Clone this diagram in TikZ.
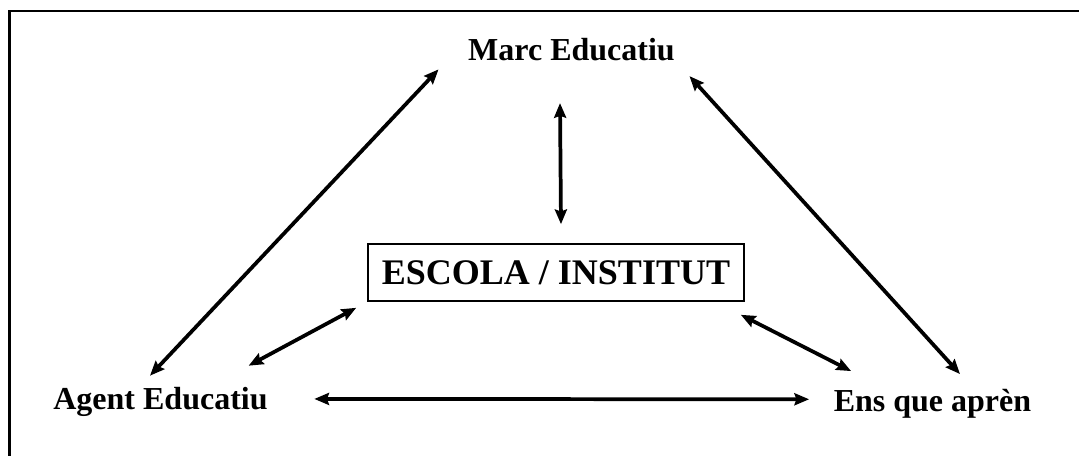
\documentclass[tikz,border=0pt]{standalone}
\usepackage{fontspec}
\setmainfont{Liberation Serif}
\usetikzlibrary{arrows.meta}

\begin{document}
\begin{tikzpicture}[x=0.75pt,y=-0.75pt,
    >={Stealth[length=11pt,width=9pt,inset=1.5pt]},
    every node/.style={font=\bfseries\fontsize{24}{28}\selectfont},
    link/.style={<->,line width=2.8pt}]
  \useasboundingbox (0,0) rectangle (1079,456);
  \clip (0,0) rectangle (1079,456);
  \draw[line width=2pt] (9.7,11) rectangle (1100,480);
  \node[anchor=base] (marc) at (571.5,61) {Marc Educatiu};
  \node[anchor=base] (agent) at (160.5,409) {Agent Educatiu};
  \node[anchor=base] (ens) at (932.5,411) {Ens que aprèn};
  \node[draw,line width=1.25pt,minimum width=282pt,minimum height=42.75pt,
    font=\bfseries\fontsize{27}{32}\selectfont] (escola) at (556,272.5) {ESCOLA / INSTITUT};
  % triangle sides
  \draw[link] ([shift={(-10.5,-6.4)}]agent.north) -- ([shift={(-25,3.3)}]marc.south west);
  \draw[link] ([shift={(10,10)}]marc.south east) -- ([shift={(27.5,-10)}]ens.north);
  \draw[link] ([shift={(42,-2.5)}]agent.east) -- ([shift={(-20,-4)}]ens.west);
  % links to the centre
  \draw[link] ([shift={(5,-19)}]escola.north) -- ([shift={(-11.5,37)}]marc.south);
  \draw[link] ([shift={(-11,6)}]escola.south west) -- ([shift={(-23.7,-16.4)}]agent.north east);
  \draw[link] ([shift={(-4,13)}]escola.south east) -- ([shift={(22,-13)}]ens.north west);
\end{tikzpicture}
\end{document}
